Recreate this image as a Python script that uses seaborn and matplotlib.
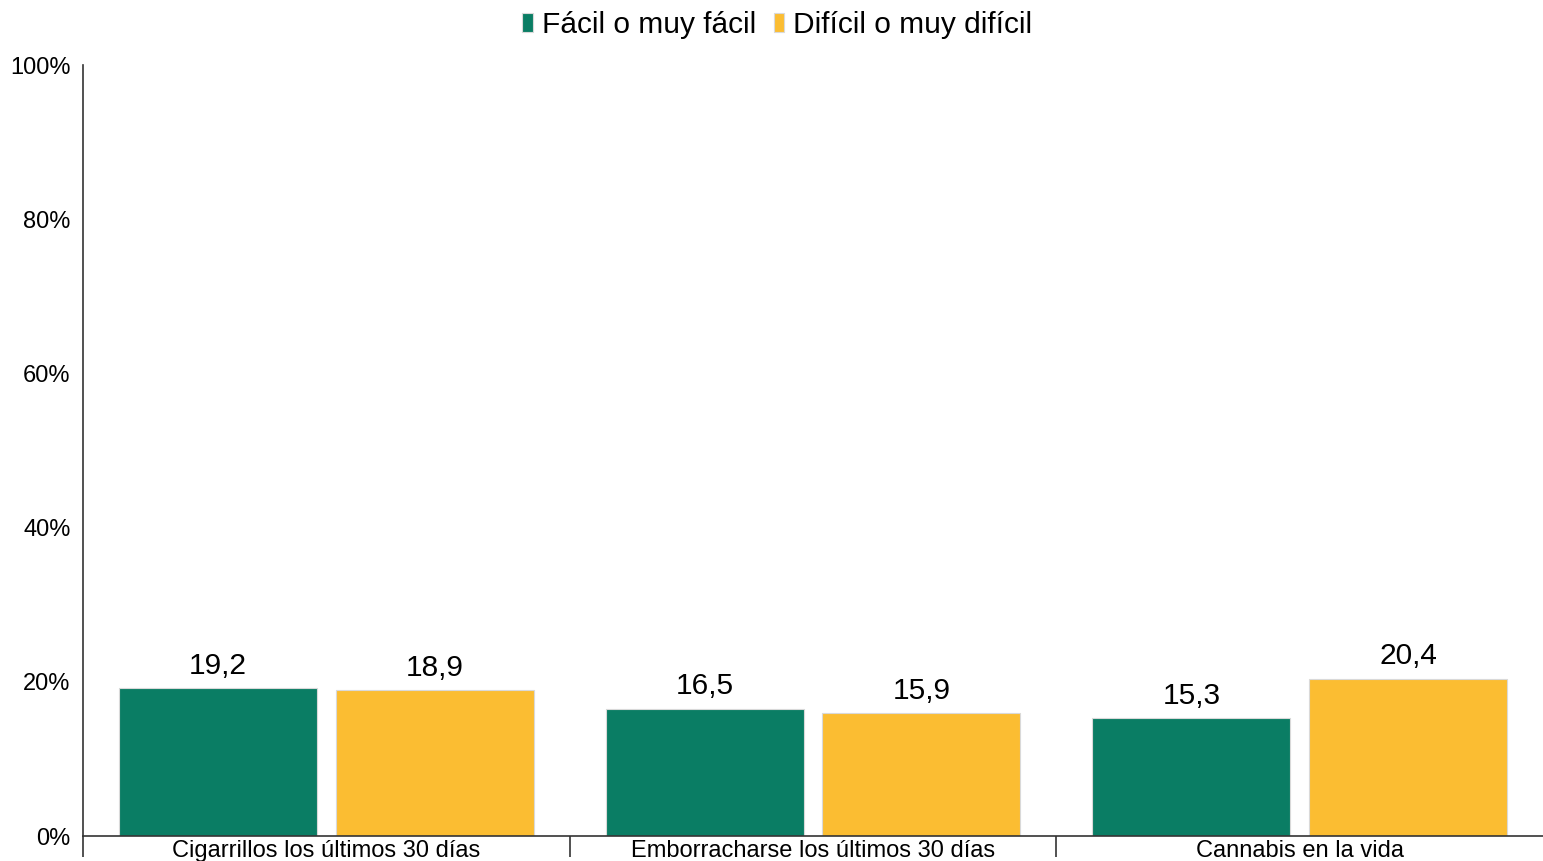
import pandas as pd
import matplotlib
matplotlib.use('Agg')
import matplotlib.pyplot as plt
import seaborn as sns
from matplotlib.ticker import FixedLocator, PercentFormatter

categories = ['Cigarrillos los últimos 30 días', 'Emborracharse los últimos 30 días', 'Cannabis en la vida']
facil = [19.2, 16.5, 15.3]
dificil = [18.9, 15.9, 20.4]
series = ['Fácil o muy fácil', 'Difícil o muy difícil']
colors = ['#0a7d64', '#fbbd32']

data = pd.DataFrame({'Categoria': categories, series[0]: facil, series[1]: dificil})
tidy = data.melt(id_vars='Categoria', var_name='Serie', value_name='Valor')

sns.set_style('white')
plt.rcParams['font.family'] = ['Liberation Sans', 'DejaVu Sans']
plt.rcParams['text.color'] = 'black'
plt.rcParams['xtick.color'] = 'black'
plt.rcParams['ytick.color'] = 'black'

fig, ax = plt.subplots(figsize=(15.43, 8.61), dpi=100)
fig.subplots_adjust(left=0.0538, right=1.0, bottom=0.029, top=0.9245)

sns.barplot(x='Categoria', y='Valor', hue='Serie', data=tidy, palette=colors,
            width=0.89, gap=0.085, linewidth=0, saturation=1, ax=ax)

# faint shadow on the right side of each bar
for patch in ax.patches:
    patch.set_edgecolor('#d9d9d9')
    patch.set_linewidth(0.8)

for cont in ax.containers:
    ax.bar_label(cont, labels=[f'{v:.1f}'.replace('.', ',') for v in cont.datavalues],
                 padding=6, fontsize=21.5, color='black')

ax.set_ylim(0, 100)
ax.set_xlim(-0.5, 2.5)
ax.set_yticks([0, 20, 40, 60, 80, 100])
ax.yaxis.set_major_formatter(PercentFormatter(decimals=0))
ax.tick_params(axis='y', length=0, pad=9, labelsize=17)
ax.tick_params(axis='x', which='major', length=0, pad=3, labelsize=17)
ax.xaxis.set_minor_locator(FixedLocator([-0.5, 0.5, 1.5]))
ax.tick_params(axis='x', which='minor', bottom=True, length=15, width=1.2,
               color='#333333', direction='out')
ax.set_xlabel('')
ax.set_ylabel('')

for s in ['top', 'right']:
    ax.spines[s].set_visible(False)
for s in ['left', 'bottom']:
    ax.spines[s].set_color('#333333')
    ax.spines[s].set_linewidth(1.2)

ax.legend(title='', loc='upper center', bbox_to_anchor=(0.4755, 1.105), ncol=2, frameon=False,
          fontsize=21.5, handlelength=0.35, handleheight=0.6, handletextpad=0.3,
          columnspacing=0.6)

fig.savefig('out.png', dpi=100)
